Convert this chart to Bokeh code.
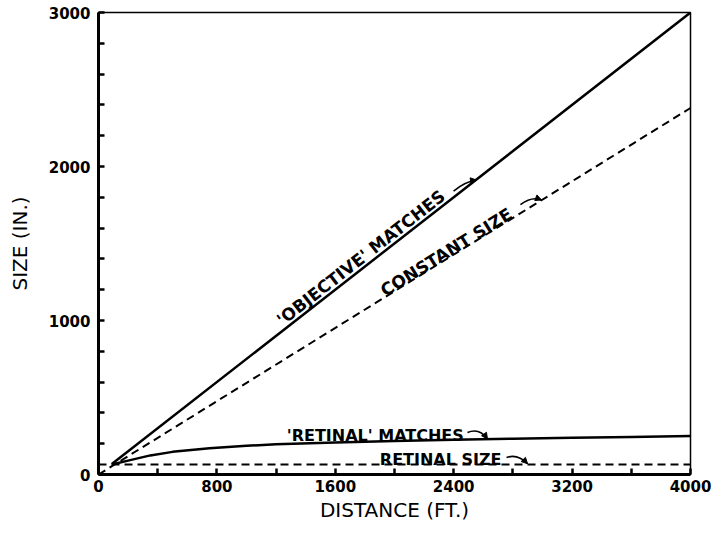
import math
from bokeh.plotting import figure
from bokeh.models import Range1d, FixedTicker, Arrow, NormalHead, ColumnDataSource
from bokeh.core.properties import value
from bokeh.embed import file_html
from bokeh.resources import INLINE

# ---- data ----
objective_x = [90, 4000]
objective_y = [68, 3000]
constant_x = [0, 4000]
constant_y = [0, 2380]
retinal_match_x = [90, 200, 350, 500, 750, 1000, 1200, 1600, 2000, 2400, 2800, 3200, 3600, 4000]
retinal_match_y = [65, 90, 124, 147, 171, 186, 196, 208, 217, 225, 232, 238, 244, 250]
retinal_size_x = [0, 4000]
retinal_size_y = [65, 65]

x_ticks = [0, 400, 800, 1200, 1600, 2000, 2400, 2800, 3200, 3600, 4000]
x_tick_labels = ["0", "", "800", "", "1600", "", "2400", "", "3200", "", "4000"]
y_ticks = list(range(0, 3001, 200))
y_tick_labels = [str(t) if t % 1000 == 0 else "" for t in y_ticks]

# annotation labels: text, x, y, angle (deg)
label_texts = ["'OBJECTIVE' MATCHES", "CONSTANT SIZE", "'RETINAL' MATCHES", "RETINAL SIZE"]
label_x = [1220, 1916, 1272, 1901]
label_y = [992, 1185, 256, 96]
label_angle_deg = [38, 31.8, 0, 0]
label_size = ["17px", "17px", "16px", "16px"]

# little curved pointer arrows: start, control, end
arrow_x0 = [2399, 2851, 2493, 2757]
arrow_y0 = [1840, 1752, 273, 110]
arrow_cx = [2480, 2926, 2574, 2831]
arrow_cy = [1903, 1808, 305, 136]
arrow_x1 = [2554, 2993, 2628, 2899]
arrow_y1 = [1912, 1783, 231, 70]

FONT = "DejaVu Sans"

p = figure(width=711, height=524, output_backend="svg", toolbar_location=None,
           x_range=Range1d(0, 4000), y_range=Range1d(0, 3000),
           min_border_left=98, min_border_right=21, min_border_top=12, min_border_bottom=43)
p.background_fill_color = "white"
p.border_fill_color = "white"
p.grid.visible = False
p.outline_line_color = "black"
p.outline_line_width = 1.5

for ax, ticks, labels in ((p.xaxis[0], x_ticks, x_tick_labels), (p.yaxis[0], y_ticks, y_tick_labels)):
    ax.ticker = FixedTicker(ticks=ticks)
    ax.major_label_overrides = {t: l for t, l in zip(ticks, labels)}
    ax.minor_tick_line_color = None
    ax.major_tick_in = 6
    ax.major_tick_out = 0
    ax.major_tick_line_width = 2.5
    ax.axis_line_width = 3
    ax.major_label_text_font = FONT
    ax.major_label_text_font_style = "bold"
    ax.major_label_text_font_size = "15px"
    ax.major_label_text_color = "black"
    ax.axis_label_text_font = FONT
    ax.axis_label_text_font_style = "normal"
    ax.axis_label_text_font_size = "20px"
    ax.axis_label_text_color = "black"

p.xaxis.axis_label = "DISTANCE (FT.)"
p.yaxis.axis_label = "SIZE (IN.)"
p.xaxis.major_label_standoff = 5
p.yaxis.major_label_standoff = 8
p.xaxis.axis_label_standoff = 3
p.yaxis.axis_label_standoff = 14

p.line(objective_x, objective_y, line_color="black", line_width=2.5)
p.line(constant_x, constant_y, line_color="black", line_width=2, line_dash="8 5")
p.line(retinal_match_x, retinal_match_y, line_color="black", line_width=2.5)
p.line(retinal_size_x, retinal_size_y, line_color="black", line_width=2, line_dash="8 5")

src = ColumnDataSource(dict(x=label_x, y=label_y, text=label_texts,
                            angle=[math.radians(a) for a in label_angle_deg], size=label_size))
p.text(x="x", y="y", text="text", angle="angle", source=src, text_font=value(FONT),
       text_font_style="bold", text_font_size="size", text_align="left",
       text_baseline="alphabetic", text_color="black")

p.quadratic(x0=arrow_x0, y0=arrow_y0, x1=arrow_x1, y1=arrow_y1, cx=arrow_cx, cy=arrow_cy,
            line_color="black", line_width=1.6)
for cx, cy, x1, y1 in zip(arrow_cx, arrow_cy, arrow_x1, arrow_y1):
    p.add_layout(Arrow(end=NormalHead(size=6, fill_color="black", line_color="black", line_width=1),
                       x_start=cx, y_start=cy, x_end=x1, y_end=y1, line_alpha=0))

open("out.html", "w").write(file_html(p, INLINE))
